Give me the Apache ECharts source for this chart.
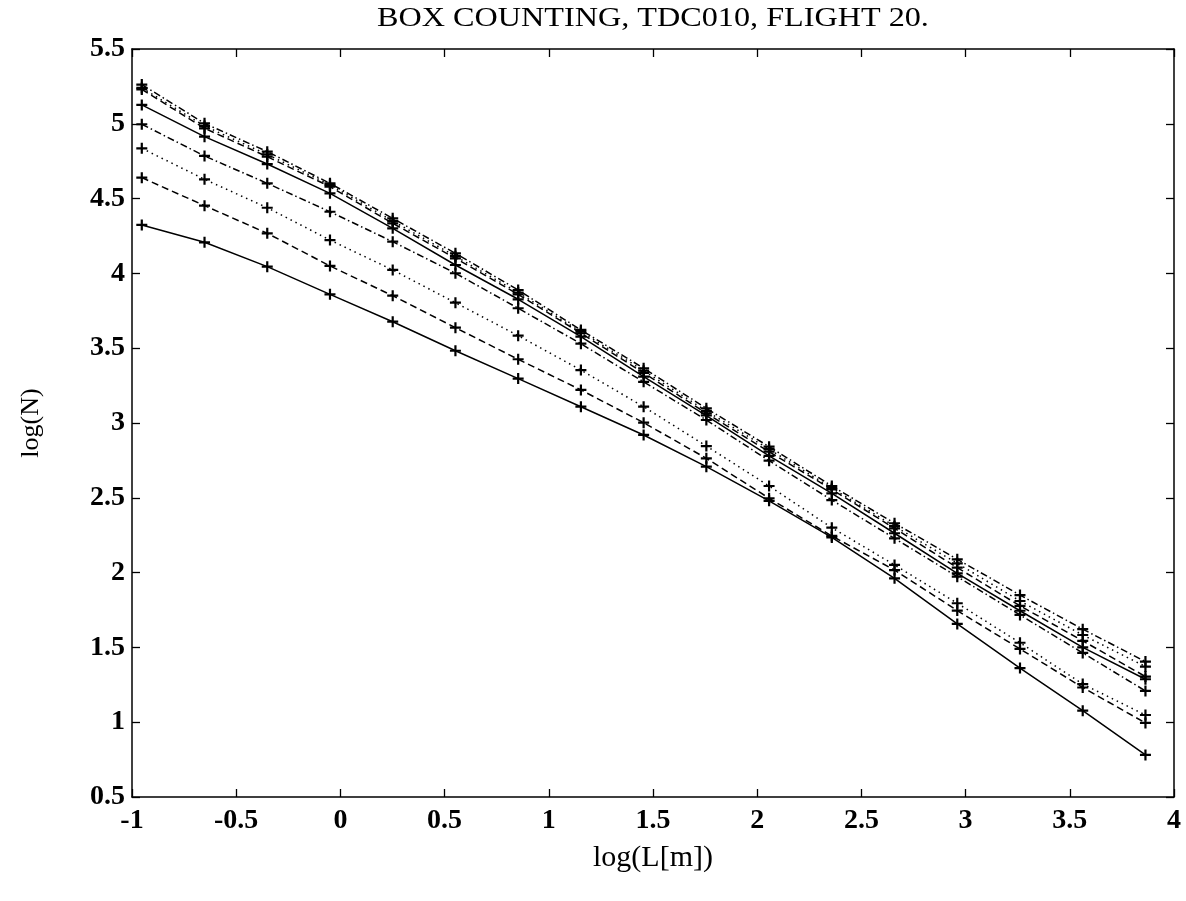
<!DOCTYPE html>
<html><head><meta charset="utf-8">
<script src="https://cdn.jsdelivr.net/npm/echarts@6/dist/echarts.min.js"></script>
<style>html,body{margin:0;padding:0;background:#fff}#c{width:1186px;height:901px}</style>
</head><body><div id="c"></div>
<script>
// log(L[m]) positions of the box sizes
const logL = [-0.953, -0.652, -0.351, -0.050, 0.251, 0.552, 0.853, 1.154, 1.455, 1.756, 2.057, 2.358, 2.659, 2.960, 3.261, 3.562, 3.863];
// log(N) for each curve (bottom group then top group)
const solidLow   = [4.324, 4.208, 4.045, 3.860, 3.677, 3.483, 3.297, 3.109, 2.920, 2.708, 2.480, 2.235, 1.962, 1.657, 1.362, 1.077, 0.781];
const dashedLow  = [4.640, 4.453, 4.268, 4.050, 3.851, 3.637, 3.426, 3.221, 3.002, 2.764, 2.497, 2.245, 2.017, 1.746, 1.490, 1.232, 0.995];
const dottedLow  = [4.836, 4.629, 4.439, 4.223, 4.023, 3.804, 3.584, 3.354, 3.109, 2.846, 2.579, 2.300, 2.051, 1.795, 1.531, 1.255, 1.048];
const dashDotLow = [4.997, 4.785, 4.602, 4.412, 4.212, 4.001, 3.767, 3.530, 3.275, 3.020, 2.748, 2.485, 2.229, 1.973, 1.717, 1.463, 1.209];
const solidHigh  = [5.126, 4.914, 4.731, 4.535, 4.301, 4.056, 3.827, 3.577, 3.310, 3.050, 2.780, 2.530, 2.263, 1.995, 1.745, 1.500, 1.287];
const dashedHigh = [5.230, 4.970, 4.780, 4.580, 4.335, 4.101, 3.860, 3.600, 3.335, 3.065, 2.808, 2.556, 2.296, 2.033, 1.778, 1.544, 1.305];
const dottedHigh = [5.240, 4.985, 4.795, 4.592, 4.350, 4.115, 3.872, 3.610, 3.350, 3.080, 2.825, 2.565, 2.310, 2.062, 1.810, 1.583, 1.372];
const dashDotHigh= [5.262, 5.003, 4.814, 4.602, 4.368, 4.134, 3.889, 3.622, 3.366, 3.098, 2.842, 2.579, 2.330, 2.089, 1.850, 1.622, 1.405];

const titleText = 'BOX COUNTING, TDC010, FLIGHT 20.';
const xName = 'log(L[m])';
const yName = 'log(N)';

const curves = [solidLow, dashedLow, dottedLow, dashDotLow, solidHigh, dashedHigh, dottedHigh, dashDotHigh];
const dashStyles = ['solid', [7, 4], [1.5, 4], [7, 3, 1.5, 3], 'solid', [7, 4], [1.5, 4], [7, 3, 1.5, 3]];

const FONT = '"Liberation Serif", "DejaVu Serif", serif';
const plus = 'path://M4,0h2v4h4v2h-4v4h-2v-4h-4v-2h4z';

const series = curves.map((ys, k) => ({
  type: 'line',
  xAxisIndex: 0, yAxisIndex: 0,
  data: logL.map((x, i) => [x, ys[i]]),
  symbol: plus,
  symbolSize: 11,
  showAllSymbol: true,
  itemStyle: { color: '#000' },
  lineStyle: { color: '#000', width: 1.5, type: dashStyles[k] },
  animation: false,
  z: 2
}));

const chart = echarts.init(document.getElementById('c'), null, { renderer: 'canvas' });
const axisCommon = {
  type: 'value',
  axisLine: { show: true, onZero: false, lineStyle: { color: '#000', width: 1.5 } },
  axisTick: { show: true, inside: true, length: 8, lineStyle: { color: '#000', width: 1.3 } },
  splitLine: { show: false }
};
const tickFont = { fontFamily: FONT, fontSize: 28, fontWeight: 'bold', color: '#000' };
chart.setOption({
  backgroundColor: '#fff',
  animation: false,
  graphic: [{
    type: 'text', x: 653, y: 19, scaleX: 1.15, scaleY: 1,
    style: { text: titleText, x: 0, y: 0, textAlign: 'center', textVerticalAlign: 'middle',
             font: '28px ' + FONT, fill: '#000' }
  }],
  grid: { left: 132, right: 12, top: 49, bottom: 104, containLabel: false },
  xAxis: [
    Object.assign({}, axisCommon, {
      min: -1, max: 4, interval: 0.5, position: 'bottom',
      name: xName, nameLocation: 'middle', nameGap: 46,
      nameTextStyle: { fontFamily: FONT, fontSize: 30, color: '#000' },
      axisLabel: Object.assign({ margin: 10 }, tickFont)
    }),
    Object.assign({}, axisCommon, {
      min: -1, max: 4, interval: 0.5, position: 'top',
      axisLabel: { show: false }
    })
  ],
  yAxis: [
    Object.assign({}, axisCommon, {
      min: 0.5, max: 5.5, interval: 0.5, position: 'left',
      name: yName, nameLocation: 'middle', nameGap: 88, nameRotate: 90,
      nameTextStyle: { fontFamily: FONT, fontSize: 26, color: '#000' },
      axisLabel: Object.assign({ margin: 7 }, tickFont)
    }),
    Object.assign({}, axisCommon, {
      min: 0.5, max: 5.5, interval: 0.5, position: 'right',
      axisLabel: { show: false }
    })
  ],
  series: series
});
</script></body></html>
